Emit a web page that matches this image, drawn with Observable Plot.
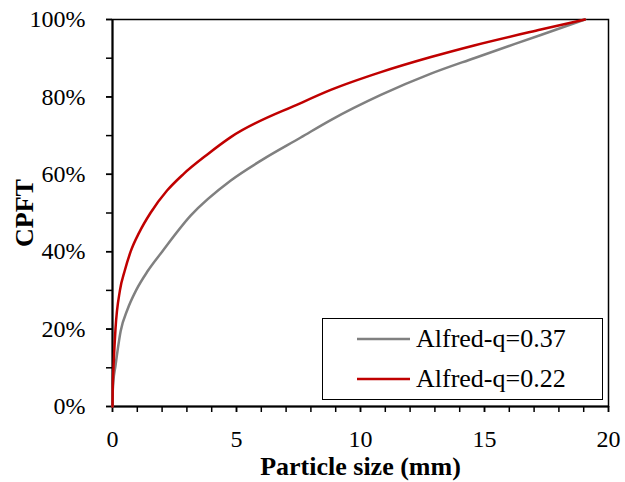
<!DOCTYPE html>
<html>
<head>
<meta charset="utf-8">
<script src="https://cdn.jsdelivr.net/npm/d3@7"></script>
<script src="https://cdn.jsdelivr.net/npm/@observablehq/plot@0.6"></script>
<style>
  html, body { margin: 0; padding: 0; background: #fff; }
  #wrap { position: relative; width: 625px; height: 482px; font-family: "Liberation Serif", "Times New Roman", serif; }
  #legend { position: absolute; left: 322px; top: 318px; width: 281px; height: 82px; box-sizing: border-box;
            border: 1.5px solid #000; background: #fff; }
  .item { position: absolute; left: 34px; height: 30px; display: flex; align-items: center; }
  .item span { font-size: 26px; margin-left: 6px; line-height: 30px; color: #000; }
</style>
</head>
<body>
<div id="wrap"></div>
<script>
// Particle size (mm) and CPFT (%)
const seriesNames = ["Alfred-q=0.37", "Alfred-q=0.22"];
const seriesColors = ["#808080", "#C00000"];
const grayX = [0, 0.005, 0.03, 0.12, 0.33, 0.6, 0.95, 1.42, 2.0, 3.15, 4.77, 6.0, 7.59, 8.8, 10.82, 12.84, 14.58, 17.27, 19.05];
const grayY = [0, 3, 6, 10.5, 19.5, 25, 30, 35, 40, 49.3, 58.4, 63.6, 69.5, 74, 80.5, 86, 90, 96, 100];
const redX = [0, 0.01, 0.04, 0.12, 0.3, 0.49, 0.73, 1.08, 1.53, 2.2, 2.85, 3.8, 4.77, 7.59, 8.8, 10.82, 12.84, 14.58, 17.27, 19.05];
const redY = [0, 5, 10, 20, 30, 35, 40, 45, 50, 55.8, 60, 65, 69.6, 78.4, 81.8, 86.4, 90.3, 93.3, 97.4, 100];
const xTicks = [0, 5, 10, 15, 20];
const xMinorTicks = d3.range(0, 21, 1);
const yTicks = [0, 20, 40, 60, 80, 100];
const yMinorTicks = d3.range(0, 101, 10);
const xTitle = "Particle size (mm)";
const yTitle = "CPFT";

const data = [
  ...grayX.map((x, i) => ({x, y: grayY[i], s: seriesNames[0]})),
  ...redX.map((x, i) => ({x, y: redY[i], s: seriesNames[1]}))
];

const chart = Plot.plot({
  width: 625, height: 482,
  marginLeft: 112, marginRight: 17, marginTop: 19, marginBottom: 76,
  style: { fontFamily: "Liberation Serif, Times New Roman, serif", fontSize: "24px", color: "#000", background: "#fff", overflow: "visible" },
  x: { domain: [0, 20] },
  y: { domain: [0, 100] },
  color: { domain: seriesNames, range: seriesColors },
  marks: [
    Plot.frame({ stroke: "#000", strokeWidth: 1.5 }),
    Plot.axisX(xMinorTicks, { tickSize: 6, tickFormat: () => "", strokeWidth: 1.5, label: null }),
    Plot.axisX(xTicks, { tickSize: 6, tickPadding: 17, strokeWidth: 1.5, label: null, fontSize: 24 }),
    Plot.axisY(yMinorTicks, { tickSize: 6, tickFormat: () => "", strokeWidth: 1.5, label: null }),
    Plot.axisY(yTicks, { tickSize: 6, tickPadding: 21, strokeWidth: 1.5, label: null, fontSize: 24, tickFormat: d => d + "%" }),
    Plot.ruleX([0], { stroke: "#000", strokeWidth: 2 }),
    Plot.ruleY([0], { stroke: "#000", strokeWidth: 2 }),
    Plot.line(data, { x: "x", y: "y", z: "s", stroke: "s", strokeWidth: 2.5, curve: "monotone-x" }),
    Plot.text([xTitle], { frameAnchor: "bottom", textAnchor: "middle", lineAnchor: "middle", dy: 60, fontWeight: "bold", fontSize: 26 }),
    Plot.text([yTitle], { frameAnchor: "left", textAnchor: "middle", lineAnchor: "middle", rotate: -90, dx: -88, fontWeight: "bold", fontSize: 26 })
  ]
});

const wrap = document.getElementById("wrap");
wrap.appendChild(chart);

const legend = document.createElement("div");
legend.id = "legend";
seriesNames.forEach((name, i) => {
  const item = document.createElement("div");
  item.className = "item";
  item.style.top = (i === 0 ? 4.5 : 44.5) + "px";
  item.innerHTML = `<svg width="53" height="4"><line x1="0" x2="53" y1="2" y2="2" stroke="${seriesColors[i]}" stroke-width="2.5"/></svg><span>${name}</span>`;
  legend.appendChild(item);
});
wrap.appendChild(legend);
</script>
</body>
</html>
